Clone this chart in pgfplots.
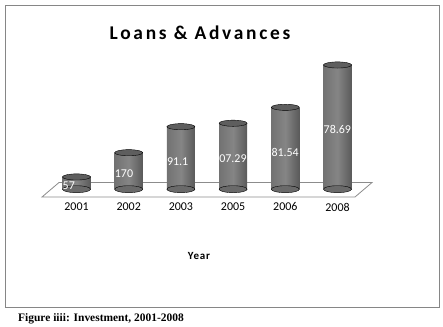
\documentclass[border=0pt]{standalone}
\usepackage{pgfplots}
\pgfplotsset{compat=1.18}
\usepackage{fontspec}
\setmainfont{Carlito}
\newfontfamily\capfont{Liberation Serif}
\definecolor{barL}{HTML}{727272}
\definecolor{barM}{HTML}{858585}
\definecolor{barR}{HTML}{5A5A5A}
\definecolor{botC}{HTML}{6A6A6A}
\definecolor{topC}{HTML}{5E5E5E}
\definecolor{frameC}{HTML}{868686}
\definecolor{floorC}{HTML}{8C8C8C}
\pgfplotsset{cyl/.style={ybar, bar width=28bp, bar shift=0pt, draw=none, left color=barL, right color=barR, middle color=barM}}
\begin{document}
\begin{tikzpicture}[x=1bp,y=1bp]
\useasboundingbox (0,0) rectangle (443,326);
\draw[color=frameC, line width=1.1bp] (5.5,18.5) rectangle (439.5,320.7);
\node[font=\fontsize{19.5}{21}\selectfont\bfseries\addfontfeatures{LetterSpace=14}] at (200,293) {Loans \& Advances};
\node[font=\fontsize{11}{13}\selectfont\bfseries\addfontfeatures{LetterSpace=8}] at (199,70) {Year};
\node[anchor=west, inner sep=0pt, font=\capfont\bfseries\fontsize{11.5}{13}\selectfont] at (18,7) {Figure iiii: Investment, 2001-2008};
\begin{axis}[at={(24.3bp,136.8bp)}, anchor=south west, scale only axis,
  width=365.4bp, height=128.8bp, xmin=-1, xmax=6, ymin=0, ymax=600,
  clip=false, axis line style={draw=none}, ytick=\empty,
  xtick={0,...,5}, xticklabels={2001,2002,2003,2005,2006,2008},
  major tick length=0pt,
  xticklabel style={anchor=center, yshift=-17.8bp, font=\fontsize{12}{14}\selectfont}]
\addplot[draw=floorC, fill=white, line width=0.8bp] coordinates {(-0.661,-36.3) (5.335,-36.3) (5.661,31.2) (-0.335,31.2)} -- cycle;
% rounded bottoms
\addplot[only marks, mark=*, mark size=14bp, mark options={yscale=0.25, draw=none, fill=botC}] coordinates {(0,0) (1,0) (2,0) (3,0) (4,0) (5,0)};
% cylinder bodies, one path each so that each has its own shading
\addplot[cyl] coordinates {(0,57)};
\addplot[cyl] coordinates {(1,170)};
\addplot[cyl] coordinates {(2,291.1)};
\addplot[cyl] coordinates {(3,307.29)};
\addplot[cyl] coordinates {(4,381.54)};
\addplot[cyl] coordinates {(5,578.69)};
% tops
\addplot[only marks, mark=*, mark size=14bp, mark options={yscale=0.22, draw=none, fill=topC}] coordinates {(0,57) (1,170) (2,291.1) (3,307.29) (4,381.54) (5,578.69)};
\addplot[draw=none, mark=none, nodes near coords, point meta=explicit symbolic,
  nodes near coords align=center,
  every node near coord/.append style={anchor=west, xshift=-14bp, inner sep=0pt, text=white, font=\fontsize{12}{14}\selectfont}]
  coordinates {(0,15) [57] (1,71) [170] (2,127) [91.1] (3,141) [07.29] (4,173) [81.54] (5,276) [78.69]};
\end{axis}
\end{tikzpicture}
\end{document}
